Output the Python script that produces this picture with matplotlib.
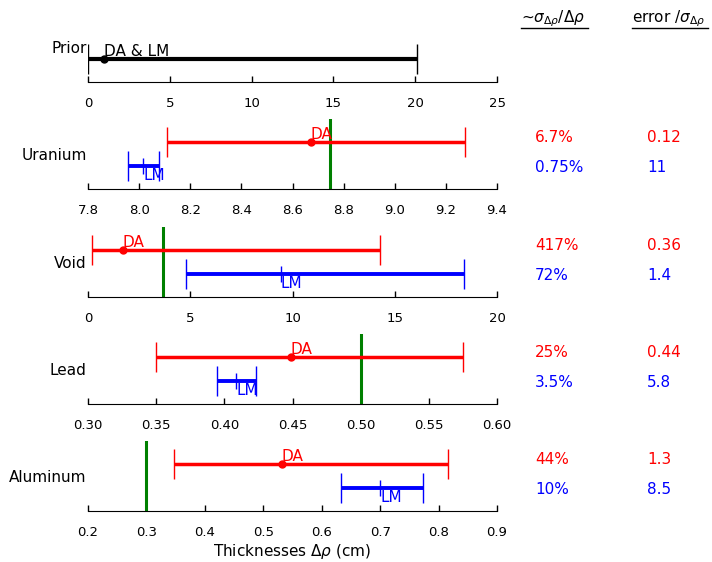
import matplotlib
matplotlib.use('Agg')
import matplotlib.pyplot as plt
from matplotlib import transforms
from matplotlib.lines import Line2D

# ---------------- data ----------------
materials = ['Uranium', 'Void', 'Lead', 'Aluminum']
true_vals = [8.745, 3.65, 0.50, 0.30]
da_center = [8.671, 1.70, 0.4487, 0.5315]
da_low = [8.108, 0.21, 0.350, 0.347]
da_high = [9.275, 14.29, 0.5748, 0.8156]
lm_center = [8.016, 9.42, 0.4088, 0.700]
lm_low = [7.958, 4.79, 0.3949, 0.6335]
lm_high = [8.079, 18.40, 0.4232, 0.7728]
da_rel = ['6.7%', '417%', '25%', '44%']
lm_rel = ['0.75%', '72%', '3.5%', '10%']
da_err = ['0.12', '0.36', '0.44', '1.3']
lm_err = ['11', '1.4', '5.8', '8.5']
xlims = [(7.8, 9.4), (0, 20), (0.30, 0.60), (0.2, 0.9)]
xticks = [[7.8, 8.0, 8.2, 8.4, 8.6, 8.8, 9.0, 9.2, 9.4],
          [0, 5, 10, 15, 20],
          [0.30, 0.35, 0.40, 0.45, 0.50, 0.55, 0.60],
          [0.2, 0.3, 0.4, 0.5, 0.6, 0.7, 0.8, 0.9]]
tick_fmt = ['{:.1f}', '{:d}', '{:.2f}', '{:.1f}']

prior_center = 1.0
prior_low = 0.0
prior_high = 20.1
prior_ticks = [0, 5, 10, 15, 20, 25]
prior_xlim = (0, 25)

# ---------------- layout ----------------
W, H = 712, 562
fig = plt.figure(figsize=(W / 100, H / 100), dpi=100)
left_px, width_px, height_px = 88, 409, 70
spines_px = [82, 189, 297, 404, 511]

TICK_FS = 9.5
LABEL_FS = 11


def make_ax(spine_y):
    ax = fig.add_axes([left_px / W, 1 - spine_y / H, width_px / W, height_px / H])
    for s in ['left', 'right', 'top']:
        ax.spines[s].set_visible(False)
    ax.set_yticks([])
    ax.set_ylim(0, 3)
    ax.tick_params(axis='x', direction='in', length=4, width=1, pad=11,
                   labelsize=TICK_FS)
    ax.patch.set_visible(False)
    return ax


# Prior axis
ax0 = make_ax(spines_px[0])
ax0.set_xlim(*prior_xlim)
ax0.set_xticks(prior_ticks)
ax0.set_xticklabels([str(t) for t in prior_ticks])
ax0.errorbar([prior_center], [1],
             xerr=[[prior_center - prior_low], [prior_high - prior_center]],
             fmt='o', color='black', ms=5, lw=3, capsize=11)
ax0.annotate('DA & LM', (prior_center, 1), xytext=(0, 0),
             textcoords='offset points', ha='left', va='bottom',
             fontsize=LABEL_FS, color='black')
ax0.text(-0.003, 0.48, 'Prior', transform=ax0.transAxes, ha='right',
         va='center', fontsize=LABEL_FS)

col1_x = 535 / W
col2_x = 647 / W

for i, name in enumerate(materials):
    ax = make_ax(spines_px[i + 1])
    ax.set_xlim(*xlims[i])
    ax.set_xticks(xticks[i])
    ax.set_xticklabels([tick_fmt[i].format(t) for t in xticks[i]])
    ax.axvline(true_vals[i], color='green', lw=2.2)
    ax.errorbar([da_center[i]], [2],
                xerr=[[da_center[i] - da_low[i]], [da_high[i] - da_center[i]]],
                fmt='o', color='red', ms=5, lw=2.5, capsize=11)
    ax.errorbar([lm_center[i]], [1],
                xerr=[[lm_center[i] - lm_low[i]], [lm_high[i] - lm_center[i]]],
                fmt='|', color='blue', ms=12, mew=1, lw=2.8, capsize=11)
    ax.annotate('DA', (da_center[i], 2), xytext=(0, 0),
                textcoords='offset points', ha='left', va='bottom',
                fontsize=LABEL_FS, color='red')
    ax.annotate('LM', (lm_center[i], 1), xytext=(0, -2),
                textcoords='offset points', ha='left', va='top',
                fontsize=LABEL_FS, color='blue')
    ax.text(-0.003, 0.48, name, transform=ax.transAxes, ha='right',
            va='center', fontsize=LABEL_FS)
    tr = transforms.blended_transform_factory(fig.transFigure, ax.transAxes)
    ax.text(col1_x, 0.74, da_rel[i], transform=tr, color='red',
            fontsize=LABEL_FS, va='center', ha='left')
    ax.text(col1_x, 0.31, lm_rel[i], transform=tr, color='blue',
            fontsize=LABEL_FS, va='center', ha='left')
    ax.text(col2_x, 0.74, da_err[i], transform=tr, color='red',
            fontsize=LABEL_FS, va='center', ha='left')
    ax.text(col2_x, 0.31, lm_err[i], transform=tr, color='blue',
            fontsize=LABEL_FS, va='center', ha='left')
    if i == len(materials) - 1:
        ax.set_xlabel(r'Thicknesses $\Delta\rho$ (cm)', fontsize=LABEL_FS,
                      labelpad=2)

# Column headers (underlined)
h1 = fig.text(521 / W, 1 - 19 / H, r'~$\sigma_{\Delta\rho}/\Delta\rho$',
              fontsize=LABEL_FS, ha='left', va='center')
h2 = fig.text(632 / W, 1 - 19 / H, r'error /$\sigma_{\Delta\rho}$',
              fontsize=LABEL_FS, ha='left', va='center')
fig.canvas.draw()
renderer = fig.canvas.get_renderer()
for h in (h1, h2):
    bb = h.get_window_extent(renderer).transformed(fig.transFigure.inverted())
    y = 1 - 28 / H
    fig.add_artist(Line2D([bb.x0, bb.x1 + 3 / W], [y, y], color='black', lw=1,
                          transform=fig.transFigure))

fig.savefig('out.png', dpi=100)
